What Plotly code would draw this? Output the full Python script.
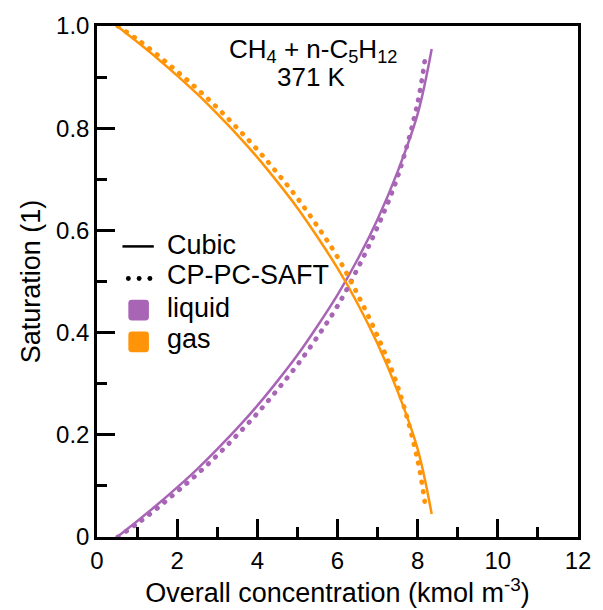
import plotly.graph_objects as go

# Overall concentration (kmol m^-3) and saturations for the two models
conc_cubic = [0.5, 1.0, 1.5, 2.0, 2.5, 3.0, 3.5, 4.0, 4.5, 5.0, 5.5, 6.0, 6.5, 7.0, 7.5, 8.0, 8.35]
liq_cubic = [0.0, 0.031, 0.063, 0.097, 0.133, 0.172, 0.213, 0.257, 0.305, 0.356, 0.413, 0.474, 0.543, 0.622, 0.715, 0.828, 0.955]
gas_cubic = [1.0, 0.969, 0.937, 0.903, 0.867, 0.828, 0.787, 0.743, 0.695, 0.644, 0.587, 0.526, 0.457, 0.378, 0.285, 0.172, 0.045]

conc_saft = [0.52, 1.0, 1.5, 2.0, 2.5, 3.0, 3.5, 4.0, 4.5, 5.0, 5.5, 6.0, 6.5, 7.0, 7.5, 8.0, 8.2]
liq_saft = [0.0, 0.026, 0.056, 0.089, 0.123, 0.160, 0.200, 0.242, 0.288, 0.337, 0.392, 0.452, 0.525, 0.607, 0.705, 0.850, 0.945]
gas_saft = [1.0, 0.974, 0.944, 0.911, 0.877, 0.840, 0.800, 0.758, 0.712, 0.663, 0.608, 0.548, 0.475, 0.393, 0.295, 0.150, 0.055]

x_ticks = [0, 2, 4, 6, 8, 10, 12]
y_ticks = [0, 0.2, 0.4, 0.6, 0.8, 1.0]
y_ticktext = ["0", "0.2", "0.4", "0.6", "0.8", "1.0"]

PURPLE = "#A865B5"
ORANGE = "#FF9408"
FONT = "Liberation Sans, Arial, Helvetica, sans-serif"
DOTS = "0.5px,9.2px"
TEXT_SIZE = 27

fig = go.Figure()
fig.add_trace(go.Scatter(x=conc_cubic, y=liq_cubic, mode="lines",
                         line=dict(color=PURPLE, width=2.5, shape="spline", smoothing=1)))
fig.add_trace(go.Scatter(x=conc_cubic, y=gas_cubic, mode="lines",
                         line=dict(color=ORANGE, width=2.5, shape="spline", smoothing=1)))
fig.add_trace(go.Scatter(x=conc_saft, y=liq_saft, mode="lines",
                         line=dict(color=PURPLE, width=4.8, dash=DOTS, shape="spline", smoothing=1)))
fig.add_trace(go.Scatter(x=conc_saft, y=gas_saft, mode="lines",
                         line=dict(color=ORANGE, width=4.8, dash=DOTS, shape="spline", smoothing=1)))

# plot area in pixels: left 97, right 588, top 21, bottom 538
L, R, T, B = 97, 588, 21, 538


def pxx(v):
    return (v - L) / (R - L)


def pxy(v):
    return (B - v) / (B - T)


def rounded_square(x0, y0, x1, y1, r):
    # path in paper coordinates with rounded corners (pixel inputs)
    pts = [
        f"M {pxx(x0 + r)},{pxy(y0)}",
        f"L {pxx(x1 - r)},{pxy(y0)}",
        f"Q {pxx(x1)},{pxy(y0)} {pxx(x1)},{pxy(y0 + r)}",
        f"L {pxx(x1)},{pxy(y1 - r)}",
        f"Q {pxx(x1)},{pxy(y1)} {pxx(x1 - r)},{pxy(y1)}",
        f"L {pxx(x0 + r)},{pxy(y1)}",
        f"Q {pxx(x0)},{pxy(y1)} {pxx(x0)},{pxy(y1 - r)}",
        f"L {pxx(x0)},{pxy(y0 + r)}",
        f"Q {pxx(x0)},{pxy(y0)} {pxx(x0 + r)},{pxy(y0)}",
        "Z",
    ]
    return " ".join(pts)


shapes = []
# legend: solid line sample
shapes.append(dict(type="line", xref="paper", yref="paper",
                   x0=pxx(123), x1=pxx(155), y0=pxy(244), y1=pxy(244),
                   line=dict(color="black", width=2.5)))
# legend: dotted sample
for cx in (129, 140, 151):
    shapes.append(dict(type="circle", xref="paper", yref="paper",
                       x0=pxx(cx - 2.5), x1=pxx(cx + 2.5),
                       y0=pxy(276.5 + 2.5), y1=pxy(276.5 - 2.5),
                       fillcolor="black", line=dict(width=0)))
# legend: phase colour swatches
shapes.append(dict(type="path", xref="paper", yref="paper",
                   path=rounded_square(129, 298, 150, 319, 3.5),
                   fillcolor=PURPLE, line=dict(width=0)))
shapes.append(dict(type="path", xref="paper", yref="paper",
                   path=rounded_square(129, 330, 150, 351, 3.5),
                   fillcolor=ORANGE, line=dict(width=0)))

annotations = []
for label, yc in (("Cubic", 243), ("CP-PC-SAFT", 273), ("liquid", 306), ("gas", 338)):
    annotations.append(dict(text=label, xref="paper", yref="paper",
                            x=pxx(166), y=pxy(yc), xanchor="left", yanchor="middle",
                            showarrow=False, font=dict(size=TEXT_SIZE, color="black", family=FONT)))

annotations.append(dict(text="CH<sub>4</sub> + n-C<sub>5</sub>H<sub>12</sub>",
                        xref="paper", yref="paper", x=pxx(317), y=pxy(46),
                        xanchor="center", yanchor="middle", showarrow=False,
                        font=dict(size=26, color="black", family=FONT)))
annotations.append(dict(text="371 K", xref="paper", yref="paper", x=pxx(316), y=pxy(73),
                        xanchor="center", yanchor="middle", showarrow=False,
                        font=dict(size=26, color="black", family=FONT)))

axis_common = dict(
    showgrid=False, zeroline=False, showline=True, linecolor="black", linewidth=2.5,
    mirror=True, ticks="inside", ticklen=18, tickwidth=2.5, tickcolor="black",
    tickfont=dict(size=24, color="black", family=FONT),
)

fig.update_layout(
    width=603, height=610,
    margin=dict(l=L, r=603 - R, t=T, b=610 - B),
    paper_bgcolor="white", plot_bgcolor="white",
    showlegend=False,
    font=dict(family=FONT, color="black"),
    shapes=shapes, annotations=annotations,
    xaxis=dict(range=[0, 12], tickvals=x_ticks,
               minor=dict(ticks="inside", dtick=1, ticklen=10, tickwidth=2.5, tickcolor="black"),
               title=dict(text="Overall concentration (kmol m<sup>-3</sup>)",
                          font=dict(size=TEXT_SIZE, color="black", family=FONT), standoff=6),
               **axis_common),
    yaxis=dict(range=[0, 1], tickvals=y_ticks, ticktext=y_ticktext,
               minor=dict(ticks="inside", dtick=0.1, ticklen=10, tickwidth=2.5, tickcolor="black"),
               title=dict(text="Saturation (1)",
                          font=dict(size=TEXT_SIZE, color="black", family=FONT), standoff=8),
               **axis_common),
)

# round line caps turn the short dashes into round dots
post_js = """
var gd = document.getElementById('{plot_id}');
function roundDots(){
  gd.querySelectorAll('.scatterlayer path.js-line').forEach(function(p){
    var d = p.style.strokeDasharray;
    if (d && d !== 'none') { p.style.strokeLinecap = 'round'; }
  });
}
roundDots();
gd.on('plotly_afterplot', roundDots);
"""

fig.write_html("out.html", post_script=post_js)
